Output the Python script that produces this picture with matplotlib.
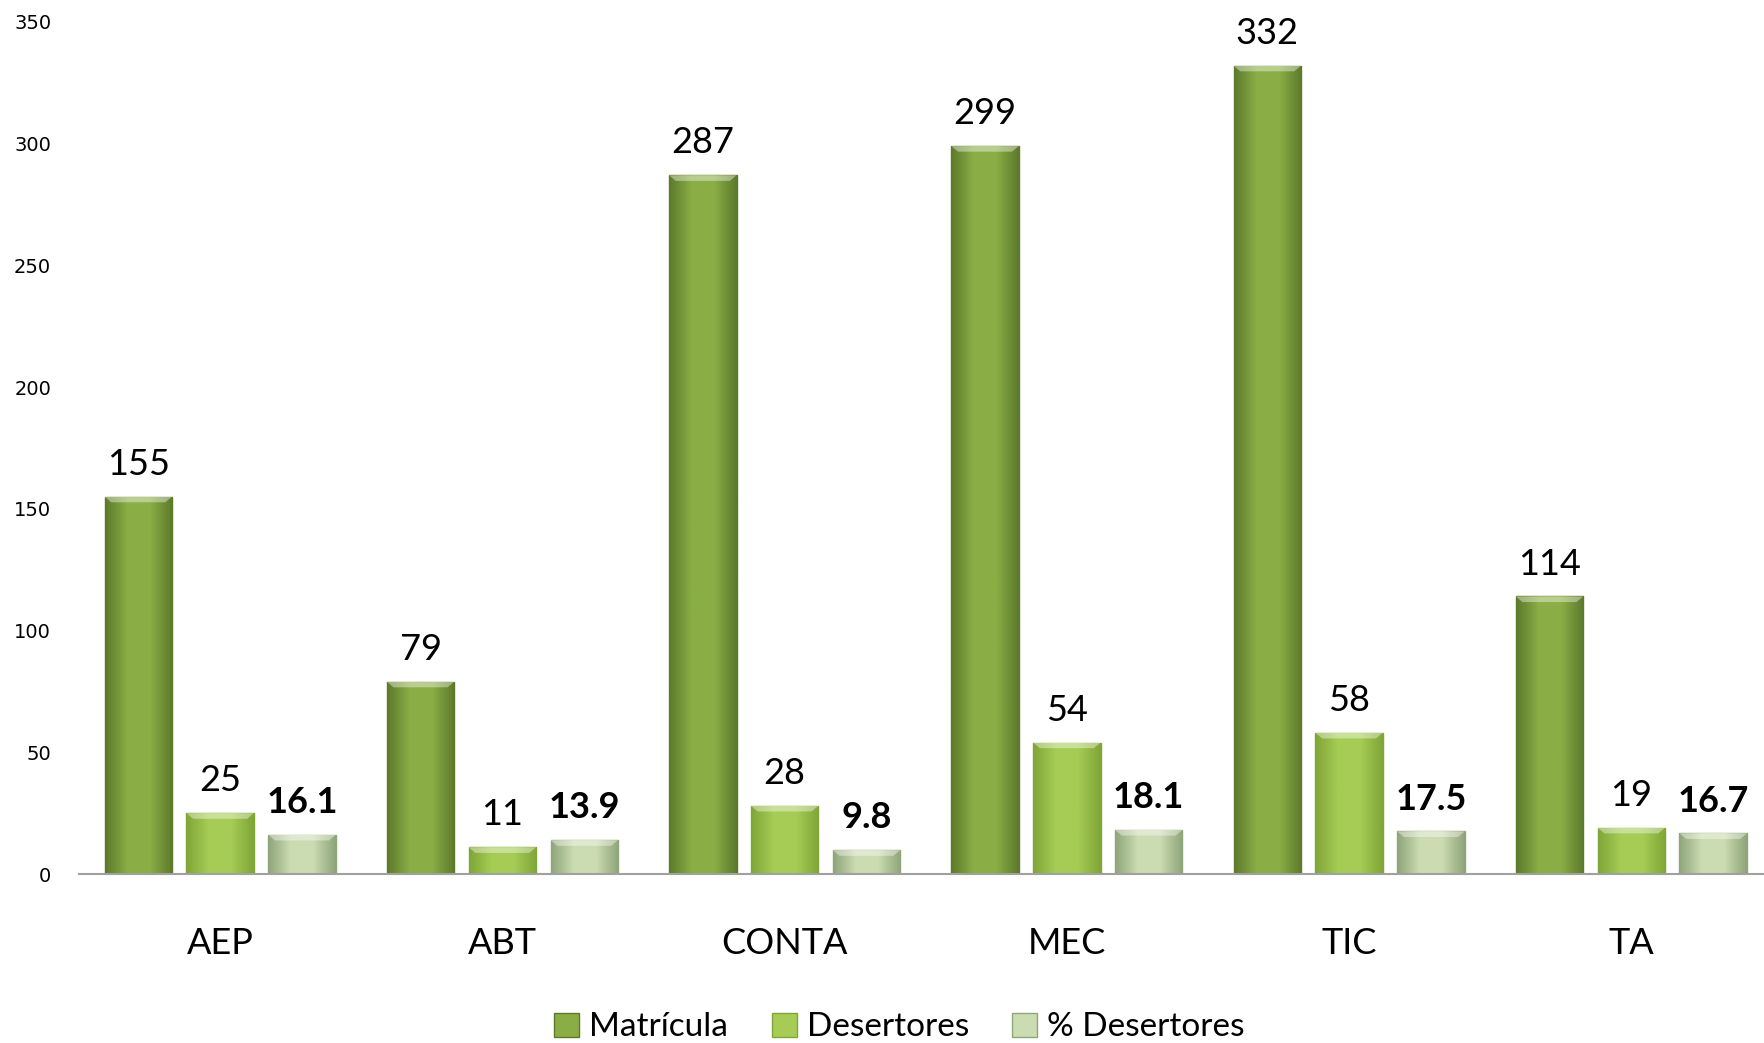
import numpy as np
import matplotlib
matplotlib.use("Agg")
import matplotlib.pyplot as plt
from matplotlib.patches import Patch
from matplotlib.colors import LinearSegmentedColormap

# datos
categorias = ["AEP", "ABT", "CONTA", "MEC", "TIC", "TA"]
matricula = [155, 79, 287, 299, 332, 114]
desertores = [25, 11, 28, 54, 58, 19]
pct_desertores = [16.1, 13.9, 9.8, 18.1, 17.5, 16.7]
series_nombres = ["Matrícula", "Desertores", "% Desertores"]
yticks = [0, 50, 100, 150, 200, 250, 300, 350]

# colores (borde, centro)
colores = [("#5d7a2c", "#8aae45"), ("#7fa637", "#a6cc55"), ("#8fa57a", "#cbdbb2")]

plt.rcParams['font.family'] = ['Lato', 'DejaVu Sans']

fig = plt.figure(figsize=(17.64, 10.43), dpi=100)
ax = fig.add_axes([0.0448, 0.162, 0.96, 0.817])

x = np.arange(len(categorias))
ancho = 0.239
offset = 0.29
valores = [matricula, desertores, pct_desertores]


def rellenar_gradiente(ax, barras, c_borde, c_centro):
    cmap = LinearSegmentedColormap.from_list("g", [c_borde, c_centro, c_centro, c_borde])
    grad = np.linspace(0, 1, 64).reshape(1, -1)
    for b in barras:
        x0, y0 = b.get_x(), b.get_y()
        w, h = b.get_width(), b.get_height()
        im = ax.imshow(grad, cmap=cmap, aspect="auto", extent=[x0, x0 + w, y0, y0 + h],
                       zorder=b.get_zorder() + 0.1)
        im.set_clip_path(b)
        # bisel superior
        ax.fill([x0, x0 + w, x0 + w * 0.9, x0 + w * 0.1],
                [y0 + h, y0 + h, y0 + h - 2.3, y0 + h - 2.3],
                color="white", alpha=0.4, lw=0, zorder=b.get_zorder() + 0.2)


for i, (vals, (cb, cc)) in enumerate(zip(valores, colores)):
    pos = x + (i - 1) * offset
    barras = ax.bar(pos, vals, ancho, color=cc, edgecolor=cb, linewidth=1.0, zorder=2)
    rellenar_gradiente(ax, barras, cb, cc)
    for p, v in zip(pos, vals):
        if i == 2:
            ax.text(p, v + 6.5, f"{v:.1f}", ha="center", va="bottom", fontsize=26,
                    fontweight="bold", color="black")
        else:
            ax.text(p, v + 6.5, f"{v}", ha="center", va="bottom", fontsize=26, color="black")

ax.set_xlim(-0.5, 5.5)
ax.set_ylim(0, 350)
ax.set_yticks(yticks)
ax.set_yticklabels([str(t) for t in yticks], family="DejaVu Sans", fontsize=14)
ax.set_xticks(x)
ax.set_xticklabels(categorias, fontsize=26)
ax.tick_params(axis="y", length=0, pad=20)
ax.tick_params(axis="x", length=0, pad=38)

for s in ["top", "right", "left"]:
    ax.spines[s].set_visible(False)
ax.spines["bottom"].set_color("#a0a0a0")
ax.spines["bottom"].set_linewidth(1.5)
ax.spines["bottom"].set_zorder(5)

handles = [Patch(facecolor=cc, edgecolor=cb) for cb, cc in colores]
fig.legend(handles, series_nombres, loc="center", bbox_to_anchor=(0.51, 0.015),
           ncol=3, frameon=False, fontsize=24, handlelength=0.75, handleheight=0.75,
           handletextpad=0.3, columnspacing=1.3)

fig.savefig("out.png", dpi=100)
